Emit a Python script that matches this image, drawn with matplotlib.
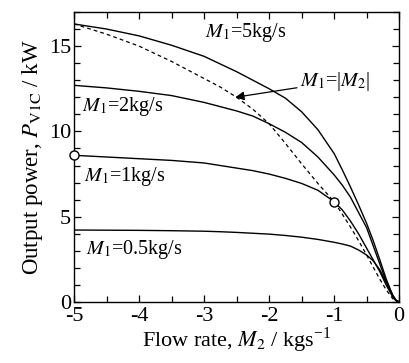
import matplotlib
matplotlib.use("Agg")
import matplotlib.pyplot as plt
from matplotlib.ticker import MultipleLocator

plt.rcParams['font.family'] = ['Liberation Serif', 'DejaVu Serif']
plt.rcParams['mathtext.fontset'] = 'stix'
plt.rcParams['axes.unicode_minus'] = False

# flow rate M2 (kg/s) and output power P_V1C (kW)
m2 = [-5, -4.5, -4, -3.5, -3, -2.75, -2.5, -2.25, -2, -1.75, -1.5, -1.25,
      -1, -0.875, -0.75, -0.625, -0.5, -0.4, -0.3, -0.2, -0.1, -0.05, 0]
p_m1_5 = [16.3, 16.0, 15.6, 15.05, 14.4, 13.95, 13.5, 13.0, 12.5, 11.95, 11.15, 10.1,
          8.7, 7.75, 6.75, 5.7, 4.6, 3.6, 2.5, 1.35, 0.4, 0.1, 0]
p_m1_2 = [12.7, 12.55, 12.35, 12.1, 11.7, 11.45, 11.2, 10.9, 10.45, 9.95, 9.35, 8.5,
          7.45, 6.85, 6.15, 5.25, 4.35, 3.3, 2.25, 1.2, 0.38, 0.1, 0]
p_m1_1 = [8.6, 8.5, 8.4, 8.3, 8.15, 8.0, 7.85, 7.7, 7.5, 7.25, 6.95, 6.55,
          5.88, 5.4, 4.75, 4.0, 3.15, 2.47, 1.8, 1.0, 0.3, 0.08, 0]
p_m1_05 = [4.22, 4.21, 4.2, 4.18, 4.15, 4.12, 4.08, 4.03, 3.98, 3.9, 3.8, 3.67,
           3.5, 3.4, 3.28, 3.05, 2.75, 2.42, 1.9, 1.15, 0.4, 0.11, 0]
p_equal = [16.3, 15.7, 15.0, 14.1, 13.1, 12.6, 12.0, 11.3, 10.45, 9.3, 8.1, 6.95,
           5.88, 5.15, 4.4, 3.6, 2.75, 2.05, 1.35, 0.72, 0.2, 0.05, 0]

marker_x = [-5, -1]
marker_y = [8.6, 5.88]

fig = plt.figure(figsize=(4.09, 3.63), dpi=100)
ax = fig.add_axes([0.181, 0.168, 0.795, 0.799])

for p in [p_m1_5, p_m1_2, p_m1_1, p_m1_05]:
    ax.plot(m2, p, color='black', lw=1.0)
ax.plot(m2, p_equal, color='black', lw=0.9, ls=(0, (3, 2.5)))
ax.plot(marker_x, marker_y, 'o', ms=6.5, mfc='white', mec='black', mew=1.0,
        clip_on=False, zorder=5)

fs = 14.5
ax.text(-2.98, 15.8, r'$M_1$=5kg/s', fontsize=fs, va='center')
ax.text(-4.87, 11.45, r'$M_1$=2kg/s', fontsize=fs, va='center')
ax.text(-4.84, 7.35, r'$M_1$=1kg/s', fontsize=fs, va='center')
ax.text(-4.82, 3.05, r'$M_1$=0.5kg/s', fontsize=fs, va='center')
ax.annotate(r'$M_1$=|$M_2$|', xy=(-2.52, 12.0), xytext=(-1.53, 12.9),
            fontsize=fs, va='center',
            arrowprops=dict(arrowstyle='-|>', color='black', lw=0.9,
                            mutation_scale=13, shrinkA=0, shrinkB=0))

ax.set_xlim(-5, 0)
ax.set_ylim(0, 17)
ax.xaxis.set_major_locator(MultipleLocator(1))
ax.xaxis.set_minor_locator(MultipleLocator(0.5))
ax.yaxis.set_major_locator(MultipleLocator(5))
ax.yaxis.set_minor_locator(MultipleLocator(1))
ax.tick_params(which='both', direction='in', top=True, right=True,
               labelsize=16, width=0.9)
ax.tick_params(which='major', length=5)
ax.tick_params(which='minor', length=4)
ax.tick_params(axis='x', which='major', pad=3.5)
ax.tick_params(axis='y', which='major', pad=2)
for s in ax.spines.values():
    s.set_linewidth(1.0)

ax.set_xlabel(r'Flow rate, $M_2$ / kgs$^{\mathregular{-1}}$', fontsize=16, labelpad=0)
ax.set_ylabel(r'Output power, $P_{\mathrm{V1C}}$ / kW', fontsize=16.5, labelpad=3)

fig.savefig('out.png', dpi=100)
